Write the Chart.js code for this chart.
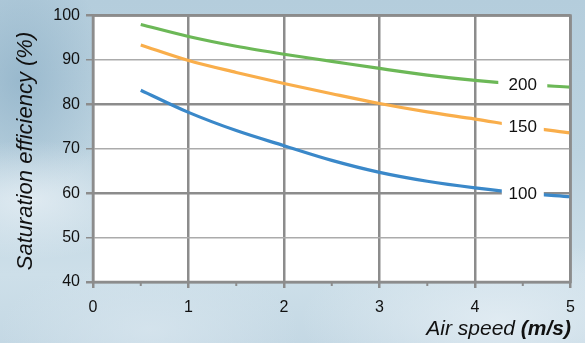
<!DOCTYPE html>
<html>
<head>
<meta charset="utf-8">
<script src="https://cdn.jsdelivr.net/npm/chart.js@4/dist/chart.umd.min.js"></script>
<style>
html,body{margin:0;padding:0;}
body{
  width:585px;height:343px;overflow:hidden;
  background:
    radial-gradient(ellipse 120px 60px at 30px 200px, rgba(235,242,247,0.7), rgba(235,242,247,0) 100%),
    radial-gradient(ellipse 200px 80px at 500px 320px, rgba(230,239,245,0.8), rgba(230,239,245,0) 100%),
    radial-gradient(ellipse 150px 70px at 150px 330px, rgba(215,229,238,0.8), rgba(215,229,238,0) 100%),
    radial-gradient(ellipse 90px 120px at 20px 80px, rgba(140,175,198,0.7), rgba(140,175,198,0) 100%),
    linear-gradient(180deg, #b4cddc 0%, #bcd3e0 45%, #cddfe9 80%, #c4d8e4 100%);
}
canvas{display:block;}
</style>
</head>
<body>
<canvas id="c" width="585" height="343"></canvas>
<script>
// ---- data ----
const airSpeed = [0.5, 1, 1.5, 2, 2.5, 3, 3.5, 4, 4.5, 5];
const eff200 = [98.0, 95.3, 93.1, 91.3, 89.7, 88.1, 86.6, 85.4, 84.5, 83.9];
const eff150 = [93.4, 89.9, 87.2, 84.7, 82.4, 80.2, 78.3, 76.7, 75.0, 73.6];
const eff100 = [83.2, 78.2, 74.1, 70.7, 67.4, 64.7, 62.7, 61.2, 60.0, 59.2];
const seriesNames = ['200', '150', '100'];
const labelAt = 4.5;
const xTicks = [0, 1, 2, 3, 4, 5];
const yTicks = [40, 50, 60, 70, 80, 90, 100];

const FONT = '"Liberation Sans", Arial, sans-serif';
const GRID_MAJOR = '#8c8c8c';
const GRID_MINOR = '#ababab';

function pts(ys){ return airSpeed.map((x,i)=>({x:x, y:ys[i]})); }

const bgPlugin = {
  id:'bg',
  beforeDraw(chart){
    const {ctx, chartArea:a} = chart;
    ctx.save();
    ctx.fillStyle = '#ffffff';
    ctx.fillRect(a.left, a.top, a.right-a.left, a.bottom-a.top);
    ctx.restore();
  }
};

const decoPlugin = {
  id:'deco',
  afterDatasetsDraw(chart){
    const {ctx, scales:{x, y}} = chart;
    const widths = [49, 42, 42];
    ctx.save();
    chart.data.datasets.forEach((ds, i) => {
      const idx = airSpeed.indexOf(labelAt);
      const px = x.getPixelForValue(labelAt);
      const py = y.getPixelForValue(ds.data[idx].y);
      ctx.fillStyle = '#ffffff';
      ctx.fillRect(px - widths[i]/2, py - 8, widths[i], 16);
      ctx.fillStyle = '#111111';
      ctx.font = '17px ' + FONT;
      ctx.textAlign = 'center';
      ctx.textBaseline = 'middle';
      ctx.fillText(seriesNames[i], px, py + 1);
    });
    ctx.restore();
  },
  afterDraw(chart){
    const {ctx, chartArea:a, scales:{x}} = chart;
    ctx.save();
    // minor ticks on x axis
    ctx.strokeStyle = GRID_MAJOR;
    ctx.lineWidth = 2;
    for (let v = 0.5; v < 5; v += 1) {
      const px = x.getPixelForValue(v);
      ctx.beginPath();
      ctx.moveTo(px, a.bottom);
      ctx.lineTo(px, a.bottom + 4);
      ctx.stroke();
    }
    // plot border
    ctx.lineWidth = 2.5;
    ctx.strokeStyle = GRID_MAJOR;
    ctx.strokeRect(a.left, a.top, a.right - a.left, a.bottom - a.top);
    // axis titles
    ctx.fillStyle = '#111111';
    ctx.textBaseline = 'alphabetic';
    const t1 = 'Air speed ', t2 = '(m/s)';
    ctx.font = 'bold italic 21px ' + FONT;
    const w2 = ctx.measureText(t2).width;
    ctx.font = 'italic 21px ' + FONT;
    const w1 = ctx.measureText(t1).width;
    const right = 571;
    ctx.textAlign = 'left';
    ctx.fillText(t1, right - w1 - w2, 335);
    ctx.font = 'bold italic 21px ' + FONT;
    ctx.fillText(t2, right - w2, 335);
    // y title
    ctx.save();
    ctx.translate(32, 151);
    ctx.rotate(-Math.PI/2);
    ctx.font = 'italic 22px ' + FONT;
    ctx.textAlign = 'center';
    ctx.fillText('Saturation efficiency (%)', 0, 0);
    ctx.restore();
    ctx.restore();
  }
};

new Chart(document.getElementById('c'), {
  type:'line',
  data:{
    datasets:[
      {label:seriesNames[0], data:pts(eff200), borderColor:'#6cb857'},
      {label:seriesNames[1], data:pts(eff150), borderColor:'#f9ae4b'},
      {label:seriesNames[2], data:pts(eff100), borderColor:'#3a88c9'}
    ]
  },
  options:{
    responsive:false,
    animation:false,
    devicePixelRatio:1,
    layout:{padding:{top:12, right:13, left:0, bottom:0}},
    elements:{
      line:{borderWidth:3.2, cubicInterpolationMode:'monotone', borderCapStyle:'butt'},
      point:{radius:0, hoverRadius:0}
    },
    plugins:{legend:{display:false}, tooltip:{enabled:false}},
    scales:{
      x:{
        type:'linear', min:0, max:5,
        afterBuildTicks(s){ s.ticks = xTicks.map(v=>({value:v})); },
        afterFit(s){ s.height = 61; },
        border:{display:false},
        grid:{color:GRID_MAJOR, lineWidth:2.5, tickLength:6, drawTicks:true},
        ticks:{color:'#111111', font:{family:FONT, size:16}, padding:10, maxRotation:0}
      },
      y:{
        type:'linear', min:40, max:100,
        afterBuildTicks(s){ s.ticks = yTicks.map(v=>({value:v})); },
        afterFit(s){ s.width = 93; },
        border:{display:false},
        grid:{
          color:(c)=> (c.tick && c.tick.value % 20 === 0) ? GRID_MAJOR : GRID_MINOR,
          lineWidth:(c)=> (c.tick && c.tick.value % 20 === 0) ? 2.5 : 1.5,
          tickColor:GRID_MAJOR,
          tickLength:7
        },
        ticks:{color:'#111111', font:{family:FONT, size:16}, padding:6}
      }
    }
  },
  plugins:[bgPlugin, decoPlugin]
});
</script>
</body>
</html>
